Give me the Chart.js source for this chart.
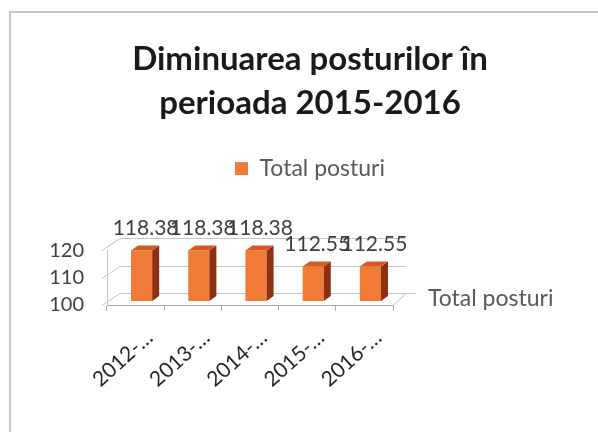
<!DOCTYPE html>
<html>
<head>
<meta charset="utf-8">
<script src="https://cdn.jsdelivr.net/npm/chart.js@4/dist/chart.umd.min.js"></script>
<style>
  html, body { margin: 0; padding: 0; background: #ffffff; }
  #wrap { position: relative; width: 598px; height: 432px; }
</style>
</head>
<body>
<div id="wrap"><canvas id="chart" width="598" height="432"></canvas></div>
<script>
// data
const categories = ['2012-…', '2013-…', '2014-…', '2015-…', '2016-…'];
const seriesName = 'Total posturi';
const totalPosturi = [118.38, 118.38, 118.38, 112.55, 112.55];
const yTicks = [100, 110, 120];

// 3D look
const DEPTH_X = 13, DEPTH_Y = -12;   // back wall offset
const BAR_X = 6, BAR_Y = -4;         // bars sit a bit into the depth
const SIDE_X = 7, SIDE_Y = -5;       // visible side/top of each bar

const frame3d = {
  id: 'frame3d',
  beforeDraw(chart) {
    const ctx = chart.ctx;
    ctx.save();
    ctx.strokeStyle = '#c8c8c8';
    ctx.lineWidth = 2;
    ctx.beginPath();
    ctx.moveTo(10, 432);
    ctx.lineTo(10, 12);
    ctx.lineTo(598, 12);
    ctx.stroke();
    ctx.restore();
  },
  beforeDatasetsDraw(chart) {
    const ctx = chart.ctx;
    const {left, right, bottom} = chart.chartArea;
    const y = chart.scales.y;
    ctx.save();
    ctx.strokeStyle = '#c4c4c4';
    ctx.lineWidth = 1;
    y.ticks.forEach(t => {
      const py = Math.round(y.getPixelForValue(t.value)) + 0.5;
      ctx.beginPath();
      ctx.moveTo(left - 5, py);
      ctx.lineTo(left + DEPTH_X, py + DEPTH_Y);
      ctx.lineTo(right + DEPTH_X, py + DEPTH_Y);
      ctx.stroke();
    });
    // floor right edge / depth axis
    ctx.beginPath();
    ctx.moveTo(right, bottom + 0.5);
    ctx.lineTo(right + DEPTH_X, bottom + DEPTH_Y + 0.5);
    ctx.lineTo(right + DEPTH_X + 10, bottom + DEPTH_Y + 0.5);
    ctx.stroke();
    ctx.fillStyle = '#595959';
    ctx.font = '23px Lato';
    ctx.textBaseline = 'middle';
    ctx.fillText(seriesName, right + 35, bottom - 6);
    ctx.restore();
    ctx.save();
    ctx.translate(BAR_X, BAR_Y);
  },
  afterDatasetsDraw(chart) {
    const ctx = chart.ctx;
    ctx.restore();
    const meta = chart.getDatasetMeta(0);
    const floor = chart.chartArea.bottom;
    ctx.save();
    meta.data.forEach((bar, i) => {
      const x0 = bar.x - bar.width / 2 + BAR_X;
      const x1 = bar.x + bar.width / 2 + BAR_X;
      const yt = bar.y + BAR_Y;
      const yb = Math.min(bar.base, floor) + BAR_Y;
      // side
      ctx.fillStyle = '#8e2f10';
      ctx.beginPath();
      ctx.moveTo(x1, yt);
      ctx.lineTo(x1 + SIDE_X, yt + SIDE_Y);
      ctx.lineTo(x1 + SIDE_X, yb + SIDE_Y);
      ctx.lineTo(x1, yb);
      ctx.closePath();
      ctx.fill();
      // top
      ctx.fillStyle = '#d45a22';
      ctx.beginPath();
      ctx.moveTo(x0, yt);
      ctx.lineTo(x0 + SIDE_X, yt + SIDE_Y);
      ctx.lineTo(x1 + SIDE_X, yt + SIDE_Y);
      ctx.lineTo(x1, yt);
      ctx.closePath();
      ctx.fill();
      // value label
      ctx.fillStyle = '#404040';
      ctx.font = '21px Lato';
      ctx.textAlign = 'center';
      ctx.textBaseline = 'middle';
      ctx.fillText(String(totalPosturi[i]), bar.x + BAR_X + 4, yt - 22);
    });
    ctx.restore();
  }
};

new Chart(document.getElementById('chart'), {
  type: 'bar',
  data: {
    labels: categories,
    datasets: [{
      label: seriesName,
      data: totalPosturi,
      backgroundColor: '#f07a36',
      borderWidth: 0,
      categoryPercentage: 1,
      barPercentage: 0.37,
    }],
  },
  options: {
    responsive: false,
    animation: false,
    layout: { padding: { left: 22 } },
    scales: {
      x: {
        grid: { display: true, drawOnChartArea: false, tickLength: 6, color: '#b0b0b0' },
        border: { display: true, color: '#a8a8a0' },
        ticks: {
          minRotation: 42,
          maxRotation: 42,
          labelOffset: 14,
          padding: 14,
          color: '#262626',
          font: { family: 'Lato', size: 21 },
        },
        afterFit(scale) { scale.height = 127; },
      },
      y: {
        min: 100,
        max: 120,
        grid: { display: false },
        border: { display: true, color: '#c4c4c4' },
        ticks: {
          stepSize: 10,
          autoSkip: false,
          padding: 15,
          color: '#404040',
          font: { family: 'Lato', size: 20 },
        },
        afterBuildTicks(scale) { scale.ticks = yTicks.map(v => ({ value: v })); },
        afterFit(scale) { scale.width = 85; },
      },
      spacer: {
        type: 'linear',
        position: 'right',
        display: true,
        grid: { display: false },
        border: { display: false },
        ticks: { display: false },
        afterFit(scale) { scale.width = 205; },
      },
    },
    plugins: {
      title: {
        display: true,
        text: ['Diminuarea posturilor în', 'perioada 2015-2016'],
        color: '#1a1a1a',
        font: { family: 'Lato', size: 33, weight: 'bold', lineHeight: 1.35 },
        padding: { top: 37, bottom: 21 },
      },
      legend: {
        display: true,
        position: 'top',
        labels: {
          boxWidth: 13,
          boxHeight: 13,
          padding: 10,
          color: '#595959',
          font: { family: 'Lato', size: 23 },
        },
      },
      subtitle: {
        display: true,
        text: '',
        weight: 500,
        font: { size: 10 },
        padding: { top: 24, bottom: 24 },
      },
      tooltip: { enabled: false },
    },
  },
  plugins: [frame3d],
});
</script>
</body>
</html>
